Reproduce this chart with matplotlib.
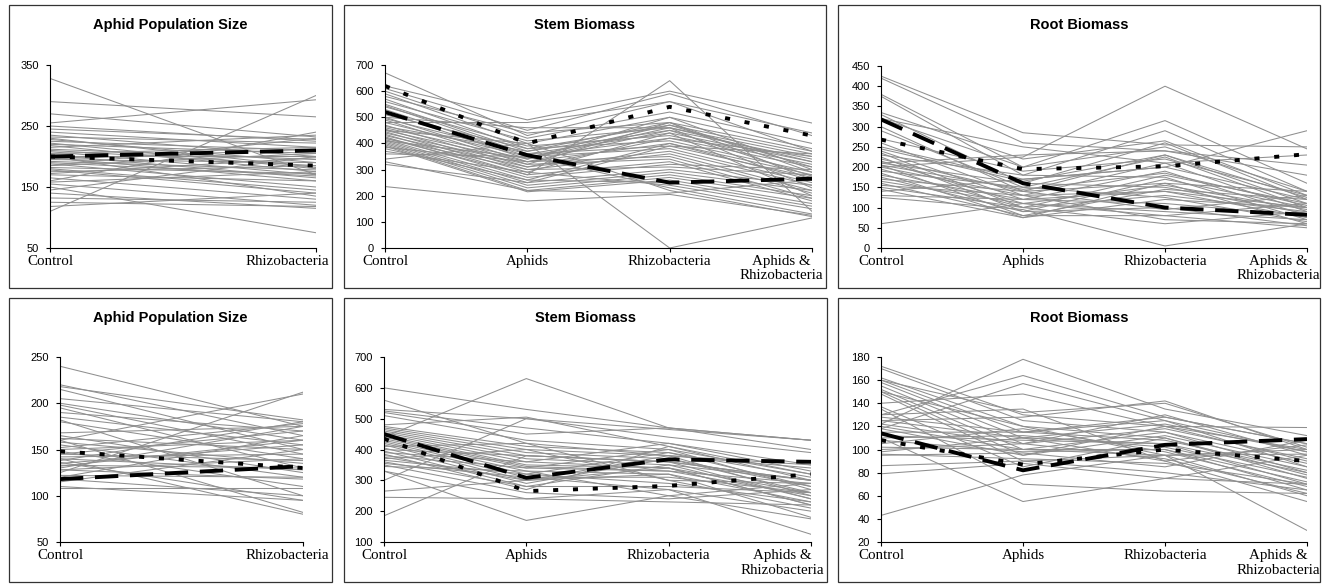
import matplotlib.pyplot as plt
from matplotlib.patches import Rectangle
from matplotlib.transforms import offset_copy

# ---- Data ----
cats2 = ["Control", "Rhizobacteria"]
cats4 = ["Control", "Aphids", "Rhizobacteria", "Aphids &\nRhizobacteria"]

# top row: aphid population (Control, Rhizobacteria)
top_aphid_lines = [
    [328, 170], [290, 265], [270, 232], [255, 293], [250, 225], [245, 228],
    [240, 215], [235, 200], [232, 222], [228, 190], [225, 210], [222, 180],
    [220, 205], [218, 175], [215, 235], [212, 195], [210, 185], [208, 170],
    [205, 215], [202, 165], [200, 200], [198, 160], [195, 190], [192, 178],
    [190, 168], [188, 150], [185, 205], [182, 172], [180, 145], [178, 140],
    [175, 185], [170, 160], [165, 130], [160, 240], [158, 175], [155, 120],
    [150, 75], [145, 200], [140, 115], [132, 125], [125, 118], [110, 300],
    [118, 140], [200, 135], [185, 230], [230, 182], [196, 212], [172, 198],
]
top_aphid_dash = [200, 210]
top_aphid_dot = [200, 185]

# top row: stem biomass
top_stem_lines = [
    [670, 430, 560, 440], [620, 490, 600, 478], [610, 450, 590, 430],
    [600, 420, 520, 400], [590, 400, 500, 380], [580, 440, 480, 370],
    [570, 380, 470, 360], [560, 410, 460, 350], [550, 370, 450, 340],
    [545, 360, 440, 330], [540, 390, 430, 320], [530, 350, 420, 310],
    [520, 340, 500, 300], [510, 380, 410, 290], [500, 330, 400, 280],
    [495, 360, 390, 270], [490, 320, 480, 260], [480, 350, 380, 250],
    [470, 310, 370, 240], [460, 340, 460, 230], [455, 300, 360, 220],
    [450, 330, 350, 210], [445, 290, 440, 200], [440, 320, 340, 190],
    [435, 280, 330, 180], [430, 310, 420, 350], [425, 270, 320, 300],
    [420, 300, 310, 280], [415, 260, 400, 260], [410, 250, 300, 240],
    [405, 240, 290, 220], [400, 230, 280, 200], [395, 220, 270, 190],
    [390, 215, 260, 170], [380, 260, 250, 160], [370, 290, 240, 150],
    [360, 350, 230, 130], [340, 400, 220, 120], [330, 220, 210, 260],
    [320, 250, 390, 360], [235, 180, 205, 125], [450, 400, 0, 115],
    [420, 280, 640, 140], [480, 480, 560, 370], [500, 460, 460, 330],
    [465, 370, 480, 290], [410, 345, 470, 310], [385, 330, 450, 275],
]
top_stem_dash = [520, 355, 250, 265]
top_stem_dot = [620, 400, 540, 430]

# top row: root biomass
top_root_lines = [
    [425, 285, 255, 250], [420, 260, 240, 205], [200, 225, 400, 245],
    [380, 200, 315, 160], [375, 180, 290, 140], [335, 220, 265, 130],
    [330, 160, 260, 120], [320, 200, 250, 140], [300, 140, 230, 110],
    [290, 150, 225, 100], [270, 190, 220, 130], [260, 130, 210, 90],
    [250, 170, 200, 120], [240, 120, 190, 80], [235, 100, 180, 110],
    [230, 180, 175, 70], [225, 90, 170, 100], [220, 140, 160, 60],
    [215, 110, 155, 95], [210, 160, 150, 85], [205, 80, 145, 120],
    [200, 130, 140, 75], [195, 100, 130, 90], [190, 150, 125, 65],
    [185, 75, 120, 100], [180, 120, 110, 80], [175, 90, 100, 55],
    [170, 140, 95, 130], [165, 110, 90, 70], [160, 80, 80, 110],
    [155, 130, 70, 60], [150, 100, 60, 90], [145, 75, 160, 140],
    [140, 170, 200, 290], [130, 120, 140, 100], [125, 95, 5, 60],
    [60, 110, 80, 50], [210, 230, 240, 180], [320, 250, 210, 230],
    [245, 165, 230, 125], [205, 145, 185, 105],
]
top_root_dash = [318, 160, 100, 82]
top_root_dot = [268, 195, 202, 232]

# bottom row: aphid population
bot_aphid_lines = [
    [240, 175], [220, 165], [218, 182], [215, 150], [205, 180], [200, 160],
    [198, 145], [195, 130], [190, 170], [185, 155], [182, 100], [180, 140],
    [168, 175], [165, 125], [162, 150], [160, 210], [158, 135], [155, 120],
    [152, 178], [150, 160], [148, 110], [145, 170], [142, 145], [140, 128],
    [138, 180], [136, 95], [135, 155], [133, 130], [130, 175], [128, 140],
    [125, 212], [122, 120], [120, 165], [118, 100], [115, 150], [110, 95],
    [108, 108], [140, 80], [160, 82], [128, 118], [145, 138], [132, 160],
]
bot_aphid_dash = [118, 132]
bot_aphid_dot = [148, 130]

# bottom row: stem biomass
bot_stem_lines = [
    [600, 530, 470, 430], [560, 420, 380, 250], [530, 500, 440, 390],
    [525, 470, 420, 350], [520, 450, 470, 430], [510, 430, 400, 320],
    [480, 505, 410, 300], [475, 410, 390, 280], [470, 400, 380, 340],
    [465, 390, 370, 260], [460, 380, 360, 300], [455, 370, 350, 240],
    [450, 360, 420, 330], [445, 350, 340, 220], [440, 345, 330, 290],
    [435, 340, 400, 270], [430, 330, 320, 230], [425, 320, 390, 310],
    [420, 310, 310, 260], [415, 300, 380, 350], [410, 420, 300, 210],
    [405, 290, 370, 280], [400, 380, 360, 240], [395, 280, 350, 300],
    [390, 360, 340, 220], [385, 270, 410, 320], [380, 340, 330, 250],
    [375, 300, 320, 180], [370, 400, 300, 290], [365, 320, 290, 230],
    [360, 280, 280, 260], [355, 310, 270, 200], [350, 260, 240, 270],
    [345, 330, 250, 175], [330, 240, 270, 125], [265, 300, 340, 260],
    [245, 240, 230, 220], [185, 380, 360, 300], [330, 170, 250, 290],
    [440, 630, 470, 400], [300, 500, 465, 430],
]
bot_stem_dash = [450, 308, 368, 360]
bot_stem_dot = [435, 265, 282, 320]

# bottom row: root biomass
bot_root_lines = [
    [172, 130, 120, 90], [170, 125, 115, 80], [162, 120, 110, 75],
    [160, 115, 125, 85], [158, 110, 105, 70], [155, 105, 130, 95],
    [152, 100, 100, 65], [150, 95, 120, 100], [148, 90, 95, 60],
    [137, 85, 110, 78], [130, 135, 90, 55], [128, 115, 128, 105],
    [125, 110, 122, 98], [122, 105, 118, 92], [120, 100, 115, 88],
    [118, 95, 112, 85], [115, 115, 108, 82], [112, 108, 105, 80],
    [110, 112, 102, 76], [108, 98, 100, 72], [105, 118, 98, 68],
    [102, 100, 95, 96], [100, 105, 92, 62], [98, 110, 90, 104],
    [96, 92, 88, 70], [95, 97, 85, 108], [122, 178, 135, 112],
    [130, 164, 128, 105], [118, 157, 125, 98], [140, 148, 120, 119],
    [160, 132, 140, 102], [79, 88, 75, 70], [86, 90, 80, 65],
    [43, 78, 95, 100], [110, 55, 75, 95], [150, 120, 95, 30],
    [135, 70, 64, 62], [125, 128, 142, 100],
]
bot_root_dash = [114, 82, 104, 109]
bot_root_dot = [108, 87, 100, 90]

# ---- Layout (pixels) ----
W, H = 1322, 584
fig = plt.figure(figsize=(W / 100, H / 100), dpi=100)
fig.patch.set_facecolor("white")


def px_rect(l, t, r, b):
    return [l / W, 1 - b / H, (r - l) / W, (b - t) / H]


panels = [
    ("Aphid Population Size", cats2, top_aphid_lines, top_aphid_dash, top_aphid_dot,
     (50, 350), range(50, 351, 100), (50, 65, 316, 248), (9, 5, 332, 288), 13),
    ("Stem Biomass", cats4, top_stem_lines, top_stem_dash, top_stem_dot,
     (0, 700), range(0, 701, 100), (385, 65, 812, 248), (344, 5, 826, 288), 11),
    ("Root Biomass", cats4, top_root_lines, top_root_dash, top_root_dot,
     (0, 450), range(0, 451, 50), (881, 66, 1307, 248), (838, 5, 1320, 288), 13),
    ("Aphid Population Size", cats2, bot_aphid_lines, bot_aphid_dash, bot_aphid_dot,
     (50, 250), range(50, 251, 50), (60, 357, 303, 542), (9, 298, 332, 582), 26),
    ("Stem Biomass", cats4, bot_stem_lines, bot_stem_dash, bot_stem_dot,
     (100, 700), range(100, 701, 100), (384, 357, 811, 542), (344, 298, 827, 582), 13),
    ("Root Biomass", cats4, bot_root_lines, bot_root_dash, bot_root_dot,
     (20, 180), range(20, 181, 20), (881, 357, 1307, 542), (838, 298, 1320, 582), 13),
]

for title, cats, lines, dash, dot, ylim, yticks, ax_px, box_px, last_dx in panels:
    bl, bt, br, bb = box_px
    fig.patches.append(Rectangle((bl / W, 1 - bb / H), (br - bl) / W, (bb - bt) / H,
                                 transform=fig.transFigure, fill=False,
                                 edgecolor="#333333", linewidth=0.9))
    fig.text((bl + br) / 2 / W, 1 - (bt + 20) / H, title, ha="center", va="center",
             fontsize=10.5, fontweight="bold", family="Liberation Sans")

    ax = fig.add_axes(px_rect(*ax_px))
    x = list(range(len(cats)))
    for ln in lines:
        ax.plot(x, ln, color="#8f8f8f", linewidth=0.75, zorder=2)
    ax.plot(x, dash, color="black", linewidth=2.8, dashes=(6, 3), zorder=4)
    ax.plot(x, dot, color="black", linewidth=2.8, dashes=(1.3, 3.8), zorder=4)

    ax.set_xlim(0, len(cats) - 1)
    ax.set_ylim(*ylim)
    ax.set_yticks(list(yticks))
    ax.set_xticks(x)
    ax.tick_params(axis="x", length=3, width=0.8, labelbottom=False)
    ax.tick_params(axis="y", length=3, width=0.8, labelsize=8, pad=5)
    for lab in ax.get_yticklabels():
        lab.set_family("Liberation Sans")
    for s in ("top", "right"):
        ax.spines[s].set_visible(False)
    for s in ("left", "bottom"):
        ax.spines[s].set_linewidth(0.8)
    ax.set_facecolor("none")

    for i, c in enumerate(cats):
        last = i == len(cats) - 1
        tr = offset_copy(ax.get_xaxis_transform(), fig=fig,
                         x=last_dx if last else 0, y=-7, units="dots")
        ax.text(i, 0, c, transform=tr, ha="right" if last else "center", va="top",
                multialignment="center", fontsize=10.8, family="Liberation Serif",
                linespacing=1.15)

fig.savefig("out.png", dpi=100, facecolor="white")
